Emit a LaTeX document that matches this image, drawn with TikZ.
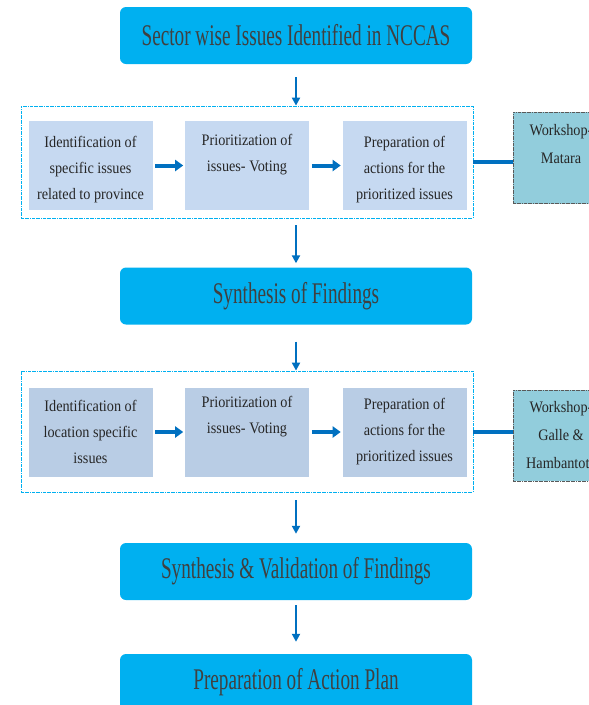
\documentclass[tikz,border=0pt]{standalone}
\usepackage{fontspec}
\setmainfont{Liberation Serif}
\newfontfamily\headfont[FakeStretch=0.64]{Liberation Serif}
\newfontfamily\stepfont[FakeStretch=0.89]{Liberation Serif}
\usetikzlibrary{arrows.meta,positioning}

\definecolor{headblue}{HTML}{00B0F0}
\definecolor{stepblueA}{HTML}{C6D9F1}
\definecolor{stepblueB}{HTML}{B9CDE5}
\definecolor{wsteal}{HTML}{92CDDC}
\definecolor{arrblue}{HTML}{0070C0}
\definecolor{txtgray}{HTML}{404040}

% pushes the first line of a box down a little
\newcommand{\padtop}{\rule{0pt}{20pt}}

\begin{document}
\begin{tikzpicture}[
  x=1pt, y=-1pt,
  head/.style={fill=headblue, rounded corners=6pt, minimum width=352pt,
    minimum height=57pt, text=txtgray, font=\headfont\fontsize{30}{36}\selectfont},
  stepbox/.style={fill=#1, draw=white, line width=0.6pt, minimum width=125pt,
    minimum height=90pt, align=center, text=black!85, inner sep=2pt,
    font=\stepfont\fontsize{16}{26}\selectfont},
  groupbox/.style={draw=headblue, densely dash dot, line width=0.8pt,
    minimum width=452pt, inner sep=0pt},
  wsbox/.style={fill=wsteal, draw=black!65, densely dash dot, line width=0.7pt,
    minimum width=96pt, minimum height=90pt, align=center, text=black!85,
    font=\stepfont\fontsize{16}{28}\selectfont},
  arr/.style={-{Triangle[length=8pt,width=8pt]}, line width=2pt, arrblue},
  harr/.style={-{Triangle[length=8pt,width=11pt]}, line width=4pt, arrblue,
    shorten <=2pt, shorten >=1pt},
  link/.style={line width=4pt, arrblue}
]
\clip (0,0) rectangle (589,705);

\node[head] (top) at (296,35.5) {Sector wise Issues Identified in NCCAS};

% first round of workshops
\node[groupbox, minimum height=112pt] (grpA) at (247,162) {};
\node[stepbox=stepblueA] (a1) at (90.5,165.5) {\padtop Identification of\\specific issues\\related to province};
\node[stepbox=stepblueA] (a2) at (247,165.5) {\padtop Prioritization of\\issues- Voting\\\strut};
\node[stepbox=stepblueA] (a3) at (404.5,165.5) {\padtop Preparation of\\actions for the\\prioritized issues};
\node[wsbox] (wsA) at (561,158) {\padtop Workshop-\\Matara\\\strut};

\draw[harr] (a1) -- (a2);
\draw[harr] (a2) -- (a3);
\draw[link] (grpA.east) -- (wsA.west |- grpA.east);

\node[head] (synth) at (296,296) {Synthesis of Findings};

% second round of workshops
\node[groupbox, minimum height=121pt] (grpB) at (247,431.5) {};
\node[stepbox=stepblueB] (b1) at (90.5,432) {Identification of\\location specific\\issues};
\node[stepbox=stepblueB] (b2) at (247,432) {Prioritization of\\issues- Voting\\\strut};
\node[stepbox=stepblueB] (b3) at (404.5,432) {Preparation of\\actions for the\\prioritized issues};
\node[wsbox, minimum height=91pt] (wsB) at (561,435.5) {Workshop-\\Galle \&\\Hambantota};

\draw[harr] (b1) -- (b2);
\draw[harr] (b2) -- (b3);
\draw[link] (grpB.east) -- (wsB.west |- grpB.east);

\node[head] (valid) at (296,571.5) {Synthesis \& Validation of Findings};
\node[head] (plan) at (296,682.5) {Preparation of Action Plan};

\draw[arr, shorten <=13pt] (top.south) -- (top.south |- grpA.north);
\draw[arr, shorten <=7pt, shorten >=4pt] (synth.north |- grpA.south) -- (synth.north);
\draw[arr, shorten <=17pt] (synth.south) -- (synth.south |- grpB.north);
\draw[arr, shorten <=8pt, shorten >=9pt] (valid.north |- grpB.south) -- (valid.north);
\draw[arr, shorten <=5pt, shorten >=12pt] (valid.south) -- (plan.north);
\end{tikzpicture}
\end{document}
